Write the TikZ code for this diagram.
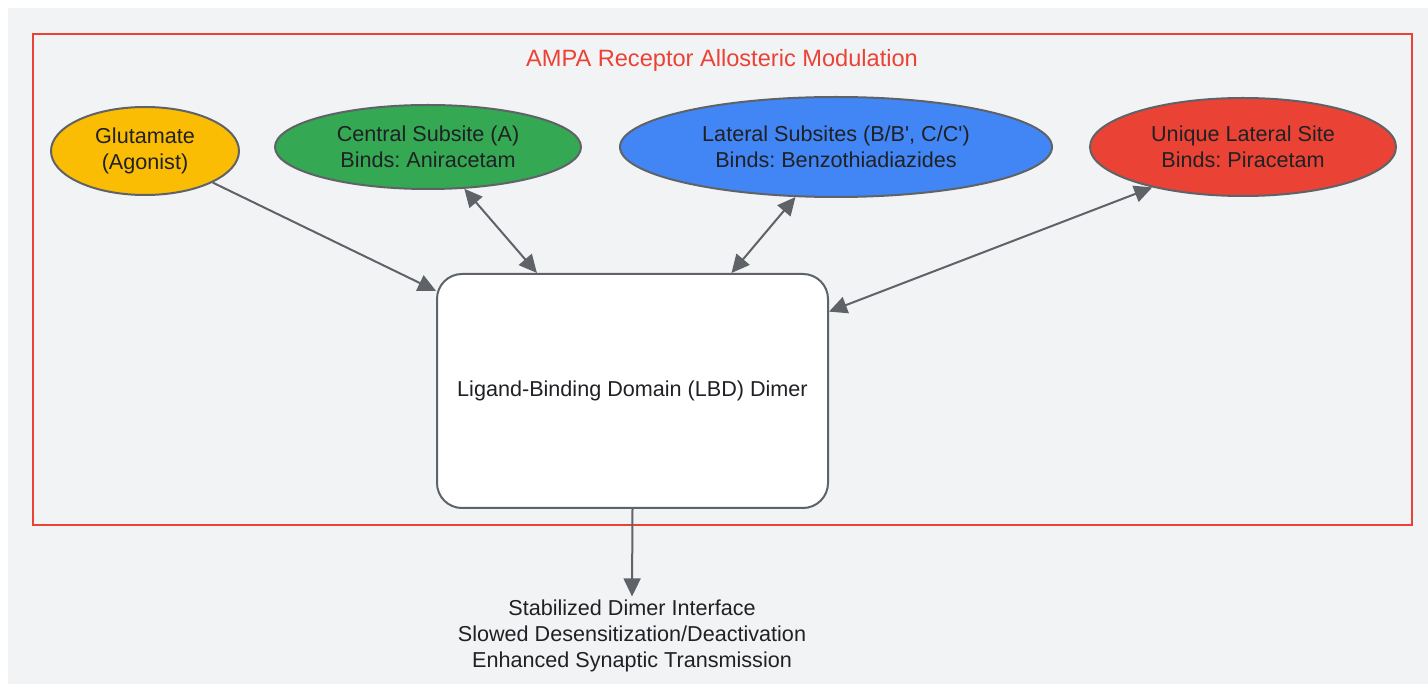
\documentclass[tikz,border=0pt]{standalone}
\usepackage{fontspec}
\setmainfont{Liberation Sans}
\usetikzlibrary{arrows.meta,shapes.geometric}
\definecolor{bggray}{HTML}{F1F3F5}
\definecolor{linegray}{HTML}{5F6368}
\definecolor{txtgray}{HTML}{202124}
\definecolor{gyellow}{HTML}{FBBC04}
\definecolor{ggreen}{HTML}{34A853}
\definecolor{gblue}{HTML}{4285F4}
\definecolor{gred}{HTML}{EA4335}
\frenchspacing
\tikzset{
  site/.style={ellipse, draw=linegray, line width=2pt, inner sep=0pt, align=center, text=txtgray, font=\fontsize{21.6}{26}\selectfont},
  link/.style={draw=linegray, line width=2pt, -{Triangle[length=18pt,width=17pt]}},
  twoway/.style={link, {Triangle[length=18pt,width=17pt]}-{Triangle[length=18pt,width=17pt]}}
}
\begin{document}
\begin{tikzpicture}[x=1pt,y=-1pt]
				\fill[white] (0,0) rectangle (1428,684);
				\fill[bggray] (8,8) rectangle (1428,684);
				\draw[gred, line width=2pt] (33,34) rectangle (1412,525);
				\node[text=gred, font=\fontsize{23.6}{28}\selectfont] (title) at (722,60) {AMPA Receptor Allosteric Modulation};
				\node[site, fill=gyellow, minimum width=188pt, minimum height=88pt] (glu) at (145,151) {Glutamate\\(Agonist)};
				\node[site, fill=ggreen, minimum width=306pt, minimum height=84pt] (central) at (428,147) {Central Subsite (A)\\Binds: Aniracetam};
				\node[site, fill=gblue, minimum width=432pt, minimum height=100pt] (lateral) at (836,147) {Lateral Subsites (B/B\textquotesingle, C/C\textquotesingle)\\Binds: Benzothiadiazides};
				\node[site, fill=gred, minimum width=306pt, minimum height=98pt] (unique) at (1243,147) {Unique Lateral Site\\Binds: Piracetam};
				\node[draw=linegray, fill=white, line width=2pt, rounded corners=25pt, minimum width=391pt, minimum height=234pt, text=txtgray, font=\fontsize{21.6}{26}\selectfont] (lbd) at (632.5,391) {\raisebox{-2pt}{Ligand-Binding Domain (LBD) Dimer}};
				\node[align=center, text=txtgray, font=\fontsize{21.6}{26}\selectfont] (result) at (632,636) {Stabilized Dimer Interface\\Slowed Desensitization/Deactivation\\Enhanced Synaptic Transmission};
				% connectors
				\draw[link] (glu.-25) -- (lbd.153.4);
				\draw[twoway] (central.-49.4) -- (lbd.129.9);
				\draw[twoway] (lateral.-129.4) -- (lbd.50.4);
				\draw[twoway] (unique.-156.2) -- (lbd.22.2);
				\draw[link] (lbd.south) -- (result.north);
			\end{tikzpicture}
\end{document}
